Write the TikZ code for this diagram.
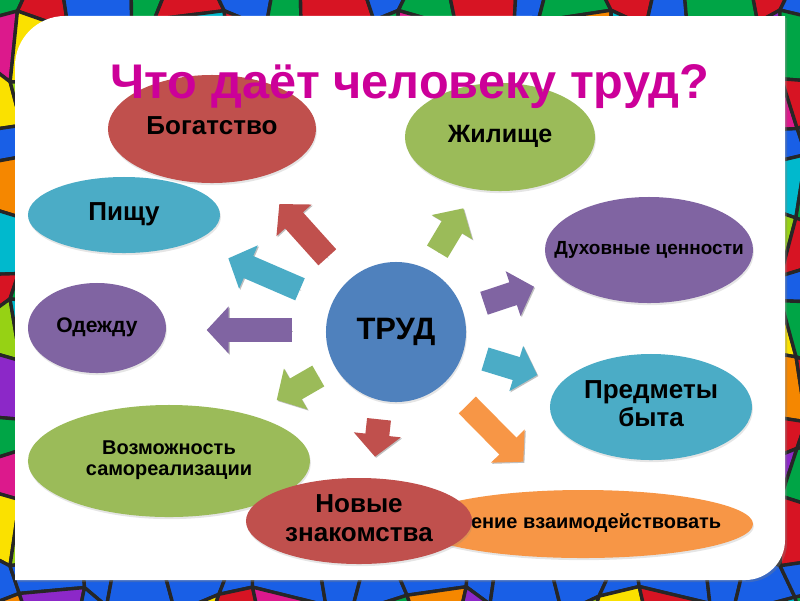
\documentclass[tikz,border=0pt]{standalone}
\usepackage{fontspec}
\setmainfont{Liberation Sans}
\usetikzlibrary{shapes.geometric,arrows.meta,calc,shadows}

\definecolor{offRed}{HTML}{C0504D}
\definecolor{offGreen}{HTML}{9BBB59}
\definecolor{offPurple}{HTML}{8064A2}
\definecolor{offAqua}{HTML}{4BACC6}
\definecolor{offOrange}{HTML}{F79646}
\definecolor{offBlue}{HTML}{4F81BD}
\definecolor{titleMagenta}{RGB}{204,0,153}
% stained glass colours
\definecolor{glass0}{RGB}{0,165,70}
\definecolor{glass1}{RGB}{250,225,0}
\definecolor{glass2}{RGB}{245,135,0}
\definecolor{glass3}{RGB}{215,20,35}
\definecolor{glass4}{RGB}{140,40,200}
\definecolor{glass5}{RGB}{220,25,140}
\definecolor{glass6}{RGB}{25,95,230}
\definecolor{glass7}{RGB}{0,185,205}
\definecolor{glass8}{RGB}{150,210,20}

\newcommand{\ellipsetext}[1]{\makebox[0pt]{\begin{tabular}{@{}c@{}}#1\end{tabular}}}

\begin{document}
\begin{tikzpicture}[
    x=0.025cm, y=-0.025cm,
    declare function={gx(\a,\b)=48*\a-24+14*sin(137*\a+71*\b);
                      gy(\a,\b)=48*\b-24+14*cos(89*\a+113*\b);},
    bubble/.style={ellipse, inner sep=0pt, outer sep=0pt, text=black,
        drop shadow={opacity=0.2, shadow xshift=0.6pt, shadow yshift=-1.5pt}},
    fsz/.style 2 args={font=\fontsize{#1}{#2}\selectfont\bfseries},
    bigarrow/.style={draw=#1, line width=0.6cm, -{Triangle[length=0.55cm, width=1.15cm]},
        preaction={draw=black!25, transform canvas={shift={(0.8pt,-0.8pt)}}}}
]
    \useasboundingbox (0,0) rectangle (800,600);

    % Stained glass frame
    \begin{scope}
        \clip (0,0) rectangle (800,600);
        \foreach \i in {0,...,17}{
            \foreach \j in {0,...,13}{
                \pgfmathtruncatemacro\k{mod(3*\i+5*\j+2*\i*\j,9)}
                \filldraw[fill=glass\k, draw=black!85, line width=2.4pt, line join=round]
                    ({gx(\i,\j)},{gy(\i,\j)}) -- ({gx(\i+1,\j)},{gy(\i+1,\j)})
                    -- ({gx(\i+1,\j+1)},{gy(\i+1,\j+1)}) -- ({gx(\i,\j+1)},{gy(\i,\j+1)}) -- cycle;
            }
        }
    \end{scope}

    % White panel
    \fill[white, drop shadow={opacity=0.35, shadow xshift=1.5pt, shadow yshift=-1.5pt}]
        (15,580) -- (15,66) arc[start angle=180, end angle=90, radius=1.25cm]
        -- (785,16) -- (785,540) arc[start angle=0, end angle=-90, radius=1cm] -- cycle;

    % Centre
    \node[bubble, circle, fill=offBlue, minimum size=3.5cm, fsz={22}{24}] (trud) at (396,332) {ТРУД};

    % Block arrows
    \draw[bigarrow=offRed] ($(trud)+(-68.7,-74.7)$) -- ($(trud)+(-116.7,-128)$);
    \draw[bigarrow=offAqua] ($(trud)+(-96,-42.7)$) -- ($(trud)+(-167.7,-73.7)$);
    \draw[bigarrow=offPurple] ($(trud)+(-104.3,-2)$) -- ($(trud)+(-189.3,-2)$);
    \draw[bigarrow=offGreen] ($(trud)+(-77.7,44)$) -- ($(trud)+(-119.3,68)$);
    \draw[bigarrow=offRed] ($(trud)+(-17,87.3)$) -- ($(trud)+(-21,124.7)$);
    \draw[bigarrow=offOrange] ($(trud)+(71.3,73)$) -- ($(trud)+(127.3,129.7)$);
    \draw[bigarrow=offAqua] ($(trud)+(89,27)$) -- ($(trud)+(141.3,43)$);
    \draw[bigarrow=offPurple] ($(trud)+(88,-28.7)$) -- ($(trud)+(138,-45.3)$);
    \draw[bigarrow=offGreen] ($(trud)+(41.3,-80.3)$) -- ($(trud)+(67.3,-123.7)$);

    % What labour gives
    \node[bubble, fill=offRed, minimum width=5.2cm, minimum height=2.7cm, fsz={18.5}{20}] (bogatstvo) at (212,129) {\ellipsetext{Богатство}};
    \node[bubble, fill=offGreen, minimum width=4.75cm, minimum height=2.7cm, fsz={17.8}{20}] (zhilishche) at (500,137) {\ellipsetext{Жилище}};
    \node[bubble, fill=offAqua, minimum width=4.8cm, minimum height=1.9cm, fsz={18.5}{20}] (pishchu) at (124,215) {\ellipsetext{Пищу}};
    \node[bubble, fill=offPurple, minimum width=5.2cm, minimum height=2.65cm, fsz={13.5}{15}] (dukhovnye) at (649,250) {\ellipsetext{Духовные ценности}};
    \node[bubble, fill=offPurple, minimum width=3.45cm, minimum height=2.25cm, fsz={15}{17}] (odezhdu) at (97,328) {\ellipsetext{Одежду}};
    \node[bubble, fill=offAqua, minimum width=5.05cm, minimum height=2.65cm, fsz={18.5}{20}] (predmety) at (651,407) {\ellipsetext{Предметы\\быта}};
    \node[bubble, fill=offGreen, minimum width=7.05cm, minimum height=2.8cm, fsz={14.2}{15}] (vozmozhnost) at (169,461) {\ellipsetext{Возможность\\самореализации}};
    \node[bubble, fill=offOrange, minimum width=8.5cm, minimum height=1.7cm, fsz={14.2}{16}] (umenie) at (583,524) {\ellipsetext{Умение взаимодействовать}};
    \node[bubble, fill=offRed, minimum width=5.65cm, minimum height=2.15cm, fsz={18.5}{20.6}] (znakomstva) at (359,521) {\ellipsetext{Новые\\знакомства}};

    % Title
    \node[fsz={34.6}{38}, text=titleMagenta, anchor=base] (title) at (410,98) {Что даёт человеку труд?};
\end{tikzpicture}
\end{document}
